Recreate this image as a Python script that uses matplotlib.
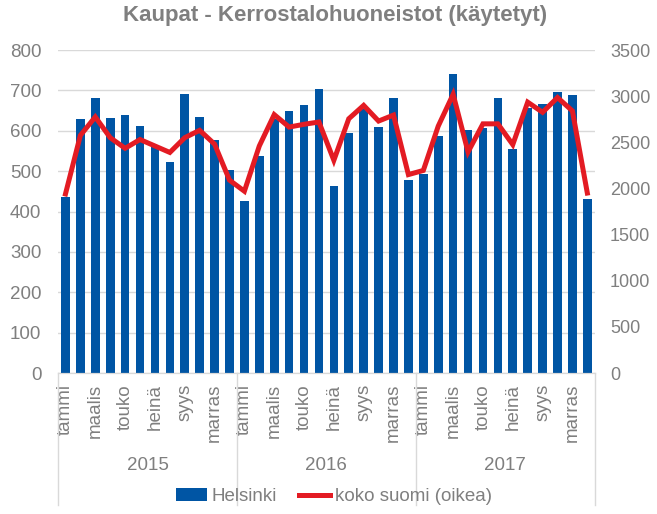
import numpy as np
import matplotlib.pyplot as plt
import matplotlib.transforms as mtransforms

plt.rcParams['font.family'] = ['Liberation Sans', 'DejaVu Sans']

years = ['2015', '2016', '2017']
month_labels = ['tammi', '', 'maalis', '', 'touko', '', 'heinä', '', 'syys', '', 'marras', '']

helsinki = [435, 630, 680, 632, 640, 612, 560, 522, 690, 634, 577, 502,
            427, 537, 628, 649, 664, 704, 464, 594, 653, 609, 681, 477,
            492, 588, 740, 603, 606, 681, 556, 657, 667, 696, 688, 432]
koko_suomi = [1940, 2575, 2775, 2550, 2435, 2530, 2460, 2390, 2550, 2630, 2480, 2090,
              1970, 2460, 2800, 2665, 2695, 2720, 2305, 2755, 2900, 2730, 2795, 2150,
              2195, 2675, 3020, 2395, 2700, 2700, 2475, 2935, 2825, 2985, 2840, 1950]

gray = '#7f7f7f'
grid = '#d9d9d9'
x = np.arange(len(helsinki))

fig = plt.figure(figsize=(6.57, 5.14), dpi=100)
ax = fig.add_axes([0.0883, 0.2743, 0.817, 0.6284])
ax2 = ax.twinx()

ax.bar(x, helsinki, width=0.58, color='#0055a4', zorder=2, label='Helsinki')
ax2.plot(x, koko_suomi, color='#e31b23', lw=3.6, solid_joinstyle='miter',
         label='koko suomi (oikea)')

ax.set_xlim(-0.5, len(x) - 0.5)
ax.set_ylim(0, 800)
ax.set_yticks(range(0, 801, 100))
ax2.set_ylim(0, 3500)
ax2.set_yticks(range(0, 3501, 500))
ax.yaxis.grid(True, color=grid, lw=1)
ax.set_axisbelow(True)

ax.set_xticks(x)
ax.set_xticklabels(month_labels * 3, rotation=90, va='top')
ax.tick_params(axis='x', length=0, pad=8, labelsize=13.5, labelcolor=gray)
ax.tick_params(axis='y', length=0, pad=12, labelsize=13.5, labelcolor=gray)
ax2.tick_params(axis='y', length=0, pad=11, labelsize=13, labelcolor=gray)

for a in (ax, ax2):
    for s in ('top', 'left', 'right'):
        a.spines[s].set_visible(False)
    a.spines['bottom'].set_color(grid)

# year grouping under the month labels
trans = mtransforms.blended_transform_factory(ax.transData, ax.transAxes)
for b in [-0.5, 11.5, 23.5, 35.5]:
    ax.plot([b, b], [0, -0.41], transform=trans, color=grid, lw=1, clip_on=False)
for i, yr in enumerate(years):
    ax.text(i * 12 + 5.5, -0.285, yr, transform=trans, ha='center', va='center',
            fontsize=13.5, color=gray)

fig.text(0.51, 1 - 16 / 514, 'Kaupat - Kerrostalohuoneistot (käytetyt)', fontsize=16,
         fontweight='bold', color=gray, ha='center', va='center')

h1, l1 = ax.get_legend_handles_labels()
h2, l2 = ax2.get_legend_handles_labels()
fig.legend(h1 + h2, l1 + l2, loc='center', bbox_to_anchor=(0.508, 0.034), ncol=2,
           frameon=False, fontsize=13.5, labelcolor=gray, handlelength=1.65,
           handletextpad=0.25, columnspacing=1.2)

fig.savefig('out.png', dpi=100)
